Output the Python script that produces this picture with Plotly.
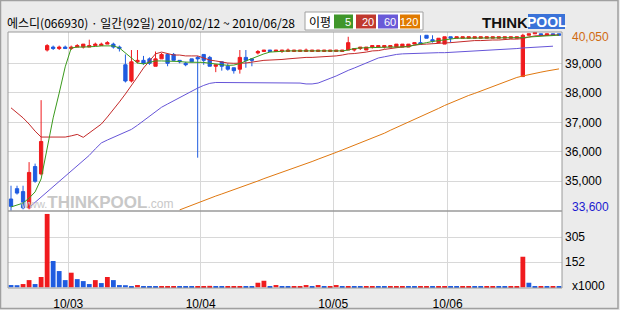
import plotly.graph_objects as go
from plotly.subplots import make_subplots

# ---------------- data ----------------
dates = ["02/12", "02/16", "02/17", "02/18", "02/19", "02/22", "02/23", "02/24", "02/25", "02/26",
         "03/02", "03/03", "03/04", "03/05", "03/08", "03/09", "03/10", "03/11", "03/12", "03/15",
         "03/16", "03/17", "03/18", "03/19", "03/22", "03/23", "03/24", "03/25", "03/26", "03/29",
         "03/30", "03/31",
         "04/01", "04/02", "04/05", "04/06", "04/07", "04/08", "04/09", "04/12", "04/13", "04/14",
         "04/15", "04/16", "04/19", "04/20", "04/21", "04/22", "04/23", "04/26", "04/27", "04/28",
         "04/29", "04/30",
         "05/03", "05/04", "05/06", "05/07", "05/10", "05/11", "05/12", "05/13", "05/14", "05/17",
         "05/18", "05/19", "05/20", "05/24", "05/25", "05/26", "05/27", "05/28", "05/31",
         "06/01", "06/03", "06/04", "06/07", "06/08", "06/09", "06/10", "06/11", "06/14", "06/15",
         "06/16", "06/17", "06/18", "06/21", "06/22", "06/23", "06/24", "06/25", "06/28"]

opens = [34400, 34750, 34650, 34100, 35500, 35250, 39450, 39550, 39500, 39550,
         39500, 39550, 39550, 39550, 39600, 39600, 39650, 39650, 39550, 38950,
         38400, 39050, 39100, 39150, 38900, 39150, 39300, 39300, 39100, 39000,
         39150, 39200, 39300, 39200, 38900, 39050, 38900, 38850, 38800, 39200,
         39150, 39350, 39400, 39450, 39400, 39400, 39400, 39400, 39400, 39400,
         39400, 39400, 39400, 39400, 39400, 39400, 39450, 39450, 39500, 39450,
         39550, 39550, 39550, 39550, 39550, 39550, 39550, 39650, 39700, 39950,
         39800, 39700, 39650, 39900, 39850, 39850, 39850, 39850, 39850, 39850,
         39850, 39850, 39850, 39850, 39850, 38550, 39950, 40000, 40000, 39950,
         40000, 40000]
highs = [34850, 34850, 34850, 35650, 35600, 37750, 39650, 39600, 39600, 39600,
         39600, 39650, 39650, 39800, 39700, 39700, 39750, 39700, 39600, 39300,
         39450, 39450, 39250, 39200, 39400, 39350, 39300, 39350, 39100, 39050,
         39150, 39250, 39300, 39250, 38950, 39050, 39000, 38850, 39450, 39450,
         39150, 39450, 39450, 39450, 39450, 39450, 39500, 39450, 39450, 39500,
         39450, 39450, 39450, 39450, 39450, 39450, 39900, 39500, 39550, 39550,
         39600, 39600, 39600, 39600, 39650, 39650, 39650, 39700, 39950, 39950,
         39950, 39850, 39900, 39900, 39900, 39900, 39900, 39900, 39900, 39900,
         39900, 39900, 39900, 39900, 39900, 40000, 40000, 40050, 40000, 40000,
         40000, 40000]
lows = [33600, 34550, 34050, 34050, 34950, 35200, 39400, 39450, 39450, 39500,
        39450, 39550, 39500, 39550, 39600, 39600, 39650, 39500, 39400, 38350,
        38350, 39000, 38950, 38950, 38900, 39150, 38900, 39100, 39000, 38900,
        39050, 35800, 38950, 38900, 38700, 38750, 38750, 38650, 38650, 38850,
        38900, 39300, 39400, 39400, 39400, 39350, 39400, 39400, 39400, 39400,
        39400, 39400, 39400, 39400, 39400, 39400, 39450, 39400, 39450, 39450,
        39500, 39550, 39500, 39550, 39550, 39550, 39550, 39650, 39650, 39850,
        39700, 39700, 39650, 39700, 39850, 39850, 39850, 39850, 39850, 39850,
        39850, 39850, 39850, 39850, 39850, 38550, 39950, 40000, 39950, 39950,
        39950, 39950]
closes = [34150, 34600, 34100, 35300, 35000, 36350, 39600, 39500, 39550, 39500,
          39550, 39600, 39650, 39600, 39650, 39650, 39700, 39550, 39500, 38400,
          39050, 39100, 39000, 39000, 39150, 39300, 39000, 39100, 39050, 38950,
          39050, 39150, 39100, 38900, 38950, 38900, 38800, 38750, 39200, 39100,
          39100, 39400, 39450, 39400, 39450, 39450, 39450, 39450, 39450, 39450,
          39450, 39450, 39450, 39450, 39450, 39450, 39700, 39500, 39550, 39550,
          39600, 39600, 39600, 39600, 39650, 39650, 39650, 39700, 39650, 39850,
          39750, 39850, 39900, 39850, 39900, 39900, 39900, 39900, 39900, 39900,
          39900, 39900, 39900, 39900, 39900, 39950, 40000, 40050, 39950, 40000,
          39950, 39950]
volume_k = [14, 13, 20, 44, 20, 63, 446, 160, 99, 44,
            89, 50, 38, 20, 44, 26, 63, 44, 14, 13,
            6, 14, 7, 6, 5, 6, 7, 8, 7, 6,
            5, 7, 8, 9, 6, 5, 6, 7, 8, 7,
            6, 28, 40, 6, 14, 6, 5, 6, 7, 14,
            6, 14, 6, 7, 14, 6, 7, 6, 5, 6,
            7, 6, 5, 6, 7, 8, 6, 5, 6, 7,
            6, 7, 8, 6, 5, 6, 7, 6, 5, 6,
            7, 6, 5, 6, 7, 186, 28, 6, 7, 6,
            7, 6]
ma5 = [34130, 34200, 34260, 34430, 34640, 35080, 36100, 37150, 37990, 38880,
       39520, 39550, 39550, 39550, 39570, 39590, 39600, 39590, 39520, 39350,
       39180, 39010, 38980, 39040, 39080, 39080, 39080, 39080, 39060, 39040,
       39040, 39040, 39030, 39000, 38980, 38940, 38930, 38940, 38990, 39080,
       39160, 39250, 39320, 39380, 39400, 39420, 39420, 39420, 39420, 39420,
       39420, 39420, 39420, 39420, 39420, 39420, 39450, 39500, 39520, 39530,
       39540, 39550, 39550, 39550, 39550, 39550, 39560, 39620, 39670, 39700,
       39740, 39770, 39810, 39840, 39850, 39850, 39850, 39850, 39850, 39850,
       39850, 39850, 39850, 39850, 39850, 39870, 39890, 39910, 39930, 39930,
       39940, 39960]
ma20 = [37490, 37320, 37150, 36940, 36700, 36500, 36500, 36500, 36500, 36500,
        36540, 36590, 36490, 36640, 36810, 36940, 37180, 37420, 37690, 37960,
        38230, 38540, 38840, 39080, 39320, 39380, 39320, 39280, 39280, 39250,
        39250, 39250, 39180, 39110, 39080, 39040, 39010, 39000, 39000, 39010,
        39040, 39080, 39100, 39110, 39110, 39130, 39150, 39170, 39180, 39200,
        39200, 39210, 39220, 39220, 39250, 39280, 39320, 39330, 39350, 39380,
        39420, 39430, 39470, 39500, 39520, 39550, 39590, 39620, 39640, 39650,
        39670, 39670, 39690, 39700, 39720, 39740, 39760, 39770, 39770, 39790,
        39790, 39790, 39810, 39820, 39820, 39840, 39890, 39930, 39940, 39960,
        39960, 39960]
ma60 = [None, None, None,
        34110, 34290, 34470, 34650, 34830, 35010, 35190, 35370, 35550, 35730,
        35880, 36100, 36300, 36400, 36490, 36580, 36670, 36760, 36900, 37050,
        37200, 37350, 37510, 37620, 37730, 37830, 37940, 38050, 38160, 38250,
        38320, 38350, 38350, 38350, 38350, 38350, 38350, 38350, 38350, 38350,
        38350, 38350, 38350, 38350, 38350, 38330, 38300, 38300, 38330, 38400,
        38490, 38570, 38670, 38760, 38840, 38930, 39010, 39100, 39180, 39220,
        39270, 39300, 39320, 39330, 39340, 39340, 39350, 39350, 39360, 39360,
        39370, 39380, 39390, 39400, 39420, 39440, 39450, 39460, 39470, 39480,
        39490, 39500, 39520, 39530, 39540, 39550, 39570, 39580]
ma120 = [None] * 28 + [
        34030, 34110, 34200, 34280, 34350, 34420, 34500, 34570, 34640, 34720,
        34790, 34860, 34940, 35010, 35090, 35160, 35230, 35300, 35380, 35450,
        35520, 35600, 35670, 35750, 35820, 35900, 35980, 36060, 36140, 36220,
        36300, 36380, 36460, 36540, 36630, 36730, 36820, 36910, 37000, 37100,
        37190, 37290, 37380, 37470, 37570, 37660, 37750, 37830, 37910, 37980,
        38060, 38140, 38220, 38300, 38370, 38450, 38520, 38570, 38620, 38660,
        38700, 38740, 38770, 38810]
price_ticks = [35000, 36000, 37000, 38000, 39000]
vol_ticks = [152.5, 305]
vol_tick_text = ["152", "305"]
max_price_label = "40,050"
min_price_label = "33,600"
title_text = "에스디(066930) · 일간(92일) 2010/02/12 ~ 2010/06/28"
ma_names = ["5", "20", "60", "120"]

# ---------------- style / layout ----------------
W, H = 620, 310
ML, MR, MT, MB = 8, 58, 32, 22
PW = W - ML - MR
PH = H - MT - MB


def px(x):
    return (x - ML) / PW


def py(y):
    return (H - MB - y) / PH


RED = "#f01b1e"
BLUE = "#1f5ce0"
MA_COLORS = ["#3a9a1c", "#c42a2a", "#6655d8", "#e07810"]
LEG_COLORS = ["#3f962a", "#c0392f", "#6a5ad8", "#e07a00"]
GRID = "#d8d8d8"
FONT = "Liberation Sans, Arial, sans-serif"
KFONT = "Noto Sans CJK KR, sans-serif"

n = len(dates)
idx = list(range(n))
month_pos = [i - 0.5 for i in range(1, n) if dates[i][:2] != dates[i - 1][:2]]
month_txt = ["10/" + dates[i][:2] for i in range(1, n) if dates[i][:2] != dates[i - 1][:2]]
vol_colors = [BLUE] + [RED if volume_k[i] > volume_k[i - 1] else BLUE for i in range(1, n)]

vol_frac = 77 / PH
fig = make_subplots(rows=2, cols=1, shared_xaxes=True, vertical_spacing=0,
                    row_heights=[1 - vol_frac, vol_frac])

for vals, col in zip([ma120, ma60, ma20, ma5], MA_COLORS[::-1]):
    fig.add_trace(go.Scatter(x=idx, y=vals, mode="lines", line=dict(color=col, width=1),
                             hoverinfo="skip", showlegend=False), row=1, col=1)

fig.add_trace(go.Candlestick(
    x=idx, open=opens, high=highs, low=lows, close=closes,
    increasing=dict(line=dict(color=RED, width=1), fillcolor=RED),
    decreasing=dict(line=dict(color=BLUE, width=1), fillcolor=BLUE),
    whiskerwidth=0, showlegend=False), row=1, col=1)

fig.add_trace(go.Bar(x=idx, y=volume_k, marker=dict(color=vol_colors, line=dict(width=0)),
                     width=0.8, showlegend=False), row=2, col=1)

xcommon = dict(range=[-0.5, n - 0.5], showgrid=True, gridcolor=GRID, gridwidth=1,
               tickvals=month_pos, ticktext=month_txt, zeroline=False, showline=False,
               automargin=False)
fig.update_xaxes(**xcommon)
fig.update_xaxes(showticklabels=False, ticks="", rangeslider=dict(visible=False), row=1, col=1)
fig.update_xaxes(showticklabels=True, ticks="outside", ticklen=5,
                 tickcolor="rgba(0,0,0,0)",
                 tickfont=dict(family=FONT, size=12, color="#000"), row=2, col=1)

fig.update_yaxes(side="right", range=[33993, 40061], tickvals=price_ticks,
                 ticktext=[f"{v:,}" for v in price_ticks], showgrid=True, gridcolor=GRID,
                 zeroline=False, showline=False, ticks="", ticklabelstandoff=2,
                 automargin=False,
                 tickfont=dict(family=FONT, size=12, color="#000"), row=1, col=1)
fig.update_yaxes(side="right", range=[-4, 464], tickvals=vol_ticks, ticktext=vol_tick_text,
                 showgrid=True, gridcolor=GRID, zeroline=False, showline=False, ticks="",
                 ticklabelstandoff=2, automargin=False,
                 tickfont=dict(family=FONT, size=12, color="#000"), row=2, col=1)

shapes = [
    # outer frame
    dict(type="rect", xref="paper", yref="paper", x0=px(0.5), x1=px(618), y0=py(308.5), y1=py(0.5),
         line=dict(color="#a0a0a0", width=1.5), layer="below"),
    # plot frame
    dict(type="rect", xref="paper", yref="paper", x0=0, x1=1, y0=0, y1=1,
         line=dict(color="#9a9a9a", width=1)),
    # panel separator
    dict(type="line", xref="paper", yref="paper", x0=0, x1=1, y0=vol_frac, y1=vol_frac,
         line=dict(color="#9a9a9a", width=1.5)),
    # legend box
    dict(type="rect", xref="paper", yref="paper", x0=px(305), x1=px(423), y0=py(30), y1=py(12),
         fillcolor="#ffffff", line=dict(color="#a0a0a0", width=1)),
    # logo blue block
    dict(type="rect", xref="paper", yref="paper", x0=px(528), x1=px(565), y0=py(29), y1=py(14),
         fillcolor="#3a72d8", line=dict(width=0)),
]
box_x = [(334, 353), (356, 376), (378, 398), (400, 420)]
for (x0, x1), c in zip(box_x, LEG_COLORS):
    shapes.append(dict(type="rect", xref="paper", yref="paper", x0=px(x0), x1=px(x1),
                       y0=py(28.5), y1=py(14.5), fillcolor=c, line=dict(width=0)))

ann = [
    dict(text=title_text, x=px(5), y=py(22), xanchor="left", yanchor="middle",
         font=dict(family=KFONT, size=12, color="#000")),
    dict(text="이평", x=px(307), y=py(21.5), xanchor="left", yanchor="middle",
         font=dict(family=KFONT, size=12, color="#000")),
    dict(text="<b>THINK</b>", x=px(480), y=py(22), xanchor="left", yanchor="middle",
         font=dict(family=FONT, size=15, color="#111")),
    dict(text="<b>POOL</b>", x=px(546.5), y=py(22), xanchor="center", yanchor="middle",
         font=dict(family=FONT, size=14, color="#ffffff")),
    dict(text="<span style='font-size:11px'>www.</span><b>THINKPOOL</b><span style='font-size:12px'>.com</span>",
         x=px(96), y=py(202), xanchor="center", yanchor="middle",
         font=dict(family=FONT, size=17, color="#c8c8c8")),
    dict(text=max_price_label, x=px(570), y=py(37), xanchor="left", yanchor="middle",
         font=dict(family=FONT, size=12, color="#d06a10")),
    dict(text=min_price_label, x=px(570), y=py(207), xanchor="left", yanchor="middle",
         font=dict(family=FONT, size=12, color="#1a1ad0")),
    dict(text="x1000", x=px(570), y=py(286), xanchor="left", yanchor="middle",
         font=dict(family=FONT, size=12, color="#000")),
]
for (x0, x1), name in zip(box_x, ma_names):
    ann.append(dict(text=name, x=px(x1 - 0.5), y=py(21.5), xanchor="right", yanchor="middle",
                    font=dict(family=FONT, size=11, color="#ffffff")))
for a in ann:
    a.update(xref="paper", yref="paper", showarrow=False)

fig.update_layout(
    width=W, height=H, margin=dict(l=ML, r=MR, t=MT, b=MB, autoexpand=False),
    paper_bgcolor="#ebebeb", plot_bgcolor="#ffffff",
    showlegend=False, shapes=shapes, annotations=ann, boxgap=0.22,
    hovermode=False,
)

fig.write_html("out.html")
